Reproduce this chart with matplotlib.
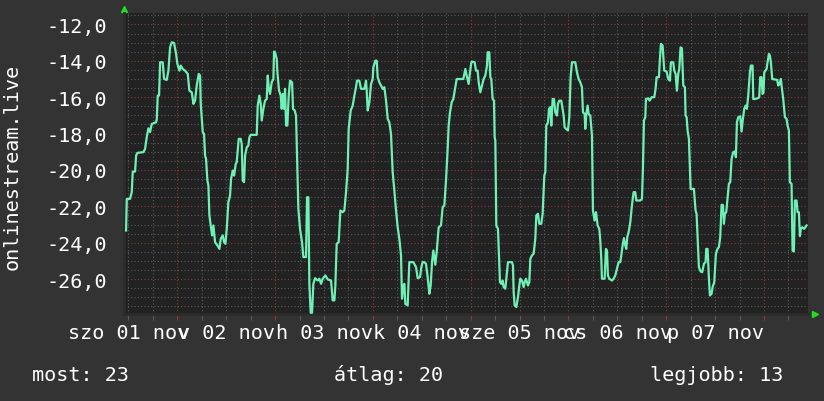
import matplotlib
matplotlib.use("Agg")
import matplotlib.pyplot as plt
from matplotlib.ticker import MultipleLocator, FuncFormatter

# hours since 01 nov 00:00 and the measured value
hours = [
    11.41, 11.58, 12.39, 12.80, 13.05, 13.62, 13.87, 14.19, 15.67, 16.07,
    16.48, 16.89, 17.30, 17.71, 18.77, 18.94, 19.18, 19.51, 19.76, 20.41,
    20.74, 21.39, 21.80, 22.21, 22.62, 23.19, 23.68, 24.01, 24.50, 24.83,
    25.32, 25.89, 26.55, 26.95, 27.53, 27.94, 28.34, 28.75, 29.24, 29.57,
    29.74, 30.23, 30.55, 30.80, 31.04, 31.37, 31.62, 31.86, 32.19, 32.52,
    32.85, 33.25, 33.83, 34.32, 34.65, 35.14, 35.46, 35.79, 36.12, 36.52,
    36.93, 37.18, 37.59, 37.92, 38.33, 38.57, 39.06, 39.55, 39.80, 40.04,
    40.37, 40.62, 41.03, 41.43, 41.68, 42.01, 43.48, 43.72, 44.13, 44.46,
    44.71, 45.11, 45.52, 45.93, 46.18, 46.42, 46.75, 47.16, 47.57, 47.73,
    47.98, 48.39, 48.55, 48.96, 49.37, 49.61, 49.86, 50.19, 50.43, 50.68,
    51.00, 51.33, 51.66, 52.15, 52.39, 52.80,
    53.13, 53.38, 53.70, 54.11, 54.60, 54.93, 55.58, 55.83, 56.16, 56.40,
    56.73, 57.06, 57.38, 57.79, 58.45, 58.86, 59.27, 59.67, 60.33, 60.90,
    61.72, 62.13, 62.54, 62.78, 63.11, 63.60, 64.01, 64.58, 64.99, 65.40,
    65.81, 66.05, 66.55, 67.04, 67.45, 67.85, 68.10, 68.67, 69.08, 69.90,
    70.31, 70.47, 70.72, 71.13, 71.54, 71.94, 72.11, 72.60, 72.93, 73.17,
    73.58, 73.99, 74.40, 74.81, 75.22, 75.63, 76.03, 76.44, 76.85, 77.26,
    77.67, 78.08, 78.49, 78.90, 79.14, 79.47, 79.72, 79.96, 80.53, 80.94,
    81.92, 82.58, 82.99, 83.56, 83.89, 84.21, 84.62, 85.03, 85.44, 85.85,
    86.18, 86.51, 86.83, 87.32, 87.65, 88.14, 88.71, 89.12, 89.53, 89.94,
    90.35, 90.60, 90.92, 91.33, 91.74, 92.15, 92.56, 94.19, 94.69, 95.01,
    95.50, 95.83, 96.16,
    96.32, 96.97, 97.30, 97.71, 97.96, 98.37, 98.77, 99.18, 99.59, 100.00,
    100.16, 100.57, 100.82, 101.06, 101.39, 101.72, 101.88, 102.05, 102.29, 102.70,
    102.86, 103.19, 103.52, 103.85, 104.09, 104.50, 104.75, 105.15, 106.14, 106.38,
    106.55, 106.79, 107.20, 107.61, 107.94, 108.18, 108.59, 109.00, 109.25, 109.57,
    110.06, 110.39, 110.64, 111.04, 111.45, 111.86, 112.11, 112.52, 112.84, 113.33,
    113.66, 114.07, 114.32, 114.56, 114.97, 115.22, 115.54, 115.79, 116.12, 116.44,
    116.77, 117.18, 117.42, 117.75, 118.24, 118.57, 118.82, 119.06, 119.39, 119.88,
    120.21, 120.53, 120.86, 121.68, 122.09, 122.50, 122.91, 123.31, 123.56, 123.97,
    124.13, 124.38, 124.71, 124.95, 125.36, 125.77, 126.01, 126.42, 126.75, 127.16,
    127.57, 127.81, 128.06, 128.22, 128.88, 129.20, 129.45, 129.69, 130.02, 130.68,
    131.09, 131.49, 131.90, 132.31, 132.72, 132.97, 133.29, 133.62, 133.95, 134.19,
    134.44, 134.77, 135.18, 135.58, 135.99, 136.40, 136.65, 137.63, 138.04, 138.28,
    138.53, 138.86, 139.02,
    139.59, 139.92, 140.41, 141.06, 141.39, 141.63, 142.21, 142.45, 142.70, 143.11,
    143.51, 144.09, 144.50, 144.91, 145.15, 145.72, 145.97, 146.30, 146.62, 146.95,
    147.20, 147.52, 147.85, 148.18, 148.59, 148.75, 149.00, 149.24, 149.57, 149.98,
    150.79, 151.20, 151.45, 151.69, 152.02, 152.43, 152.84, 153.25, 153.66, 153.82,
    154.15, 154.48, 154.72, 155.13, 155.38, 155.79, 156.19, 156.60, 156.93, 157.26,
    157.58, 157.91, 158.16, 158.40, 158.73, 159.06, 159.38, 159.71, 160.04, 160.45,
    160.86, 161.10, 161.35, 161.67, 162.16, 162.49, 162.82, 163.15, 163.47, 163.80,
    164.13, 164.54, 164.78, 165.19, 165.36, 165.76, 166.42, 166.83, 167.07, 167.40,
    167.65, 167.89, 168.06, 168.63, 168.87, 169.20, 169.45, 169.69, 170.02, 171.24,
    171.49, 171.82, 172.14, 172.31, 172.72, 173.13, 173.54, 173.78, 174.11, 174.35,
    174.76, 175.01, 175.33, 175.58, 175.99, 176.23, 176.56, 176.81, 177.05, 177.38,
    177.87, 178.44,
]
values = [
    -23.33, -21.59, -21.59, -21.22, -20.09, -20.09, -19.21, -19.06, -19.02, -18.84,
    -18.20, -17.71, -17.92, -17.47, -17.38, -17.23, -15.91, -15.91, -14.08, -14.08,
    -15.00, -15.05, -14.54, -13.26, -12.98, -13.02, -13.62, -14.17, -14.54, -14.26,
    -14.45, -14.54, -14.72, -15.64, -15.73, -16.37, -16.19, -15.36, -14.72, -14.81,
    -16.37, -17.92, -18.02, -19.21, -19.39, -20.58, -20.86, -22.50, -23.05, -23.60,
    -23.05, -23.97, -24.15, -24.34, -23.79, -23.60, -23.97, -24.06, -23.24, -21.77,
    -21.41, -20.49, -20.03, -20.31, -19.67, -19.57, -18.29, -18.29, -18.57, -20.58,
    -20.67, -19.21, -18.75, -18.66, -18.20, -18.07, -18.07, -16.46, -15.91, -16.37,
    -17.28, -16.64, -16.19, -16.10, -14.81, -15.45, -15.82, -15.18, -15.00, -13.49,
    -13.53, -13.90, -14.63, -15.64, -15.91, -16.64, -15.82, -16.64, -15.54, -17.56,
    -17.56, -15.91, -15.09, -15.18, -16.64, -16.73,
    -17.01, -19.21, -22.14, -23.24, -23.97, -24.79, -24.79, -21.50, -21.50, -26.26,
    -27.85, -27.85, -26.26, -25.95, -26.08, -25.98, -26.26, -25.98, -25.80, -26.02,
    -26.08, -27.17, -27.17, -26.35, -24.06, -23.97, -22.23, -22.32, -22.23, -21.22,
    -19.94, -17.74, -16.73, -16.46, -15.91, -15.45, -15.09, -15.09, -15.54, -15.54,
    -15.09, -15.64, -16.73, -16.28, -15.27, -15.00, -14.35, -13.99, -13.99, -14.90,
    -15.18, -15.36, -15.54, -15.45, -16.19, -17.19, -17.38, -18.02, -20.12, -21.13,
    -22.23, -23.15, -23.79, -24.70, -27.08, -26.35, -26.26, -27.36, -27.45, -25.07,
    -25.07, -25.34, -25.95, -25.89, -25.34, -25.07, -25.07, -25.16, -25.89, -26.81,
    -26.35, -25.07, -24.43, -25.21, -24.52, -23.15, -23.05, -22.05, -21.95, -20.58,
    -18.84, -17.56, -16.83, -16.28, -16.10, -15.54, -15.00, -15.00, -14.45, -14.81,
    -15.27, -14.63, -14.08,
    -14.04, -14.08, -14.54, -14.54, -15.18, -15.73, -15.36, -15.00, -14.81, -14.26,
    -13.53, -13.53, -14.90, -15.00, -16.10, -16.19, -18.20, -18.38, -23.05, -23.24,
    -24.15, -26.17, -26.26, -26.08, -26.44, -26.53, -25.98, -25.07, -25.07, -25.25,
    -26.72, -27.45, -27.54, -26.99, -26.35, -25.98, -26.08, -26.44, -26.17, -25.98,
    -26.35, -26.17, -24.89, -24.70, -24.61, -23.79, -22.50, -22.41, -22.96, -22.96,
    -22.41, -20.31, -20.12, -17.56, -17.38, -16.64, -16.55, -17.56, -16.10, -16.10,
    -16.83, -17.01, -16.37, -16.19, -16.19, -16.64, -17.01, -17.65, -17.74, -17.83,
    -17.10, -14.90, -14.08, -14.08, -14.63, -15.00, -15.18, -15.45, -16.83, -16.92,
    -17.74, -16.92, -16.46, -16.92, -17.01, -18.11, -22.23, -22.78, -22.32, -23.05,
    -23.24, -23.88, -24.89, -25.98, -25.98, -24.34, -24.43, -25.80, -25.98, -26.08,
    -25.98, -25.80, -25.43, -25.07, -25.07, -24.70, -24.15, -23.75, -24.15, -24.34,
    -23.69, -23.42, -22.87, -21.95, -21.22, -21.22, -21.68, -21.68, -21.59, -19.94,
    -17.28, -17.10, -16.10,
    -16.06, -16.19, -16.00, -16.00, -15.54, -14.90, -14.90, -13.89, -13.07, -13.16,
    -14.54, -14.59, -15.00, -15.09, -14.08, -14.08, -14.54, -14.72, -15.64, -14.72,
    -14.45, -13.26, -13.31, -15.36, -15.45, -17.01, -17.10, -17.83, -18.29, -21.04,
    -21.04, -22.23, -22.41, -23.69, -25.34, -25.58, -25.62, -25.16, -25.07, -24.34,
    -24.34, -25.98, -26.90, -26.81, -26.44, -26.17, -24.61, -24.34, -24.24, -23.69,
    -21.92, -21.92, -22.96, -22.41, -22.32, -21.50, -20.76, -20.67, -19.39, -19.02,
    -18.98, -19.30, -17.38, -17.10, -17.05, -17.89, -17.19, -16.64, -16.46, -16.64,
    -15.91, -14.63, -14.26, -14.26, -16.10, -16.10, -16.06, -16.00, -14.90, -14.90,
    -15.82, -15.73, -14.63, -14.45, -14.08, -13.62, -13.71, -14.08, -15.00, -15.05,
    -15.36, -15.27, -15.00, -15.36, -16.10, -17.10, -17.19, -17.56, -17.83, -20.67,
    -20.76, -24.43, -24.48, -21.68, -21.68, -22.32, -22.32, -23.64, -23.24, -23.15,
    -23.24, -23.05,
]

day_labels = ["szo 01 nov", "v 02 nov", "h 03 nov", "k 04 nov",
              "sze 05 nov", "cs 06 nov", "p 07 nov"]
day_label_hours = [12, 36, 60, 84, 108, 132, 156]

legend_texts = ["most: 23", "átlag: 20", "legjobb: 13"]
ylabel_text = "onlinestream.live"

bg_color = "#333333"
canvas_color = "#222222"
line_color = "#6ff0b6"
minor_grid = "#5a5a5a"
major_grid = "#8a3a3a"
arrow_color = "#22dd22"
font = "DejaVu Sans Mono"
fsize = 14.5

fig = plt.figure(figsize=(8.24, 4.02), dpi=100, facecolor=bg_color)
ax = fig.add_axes([124 / 824, 87 / 402, 684 / 824, 301 / 402])
ax.set_facecolor(canvas_color)

ax.plot(hours, values, color=line_color, linewidth=1.6, zorder=3)

ax.set_xlim(10.9, 178.8)
ax.set_ylim(-27.92, -11.37)

ax.xaxis.set_major_locator(MultipleLocator(24))
ax.xaxis.set_minor_locator(MultipleLocator(6))
ax.yaxis.set_major_locator(MultipleLocator(2))
ax.yaxis.set_minor_locator(MultipleLocator(0.5))

dots = (0, (1, 2))
ax.grid(which="minor", color=minor_grid, linestyle=dots, linewidth=0.8)
ax.grid(which="major", color=major_grid, linestyle=dots, linewidth=0.8)
ax.set_axisbelow(True)

ax.yaxis.set_major_formatter(FuncFormatter(lambda v, p: ("%.1f" % v).replace(".", ",")))
ax.set_xticklabels([])
ax.tick_params(axis="y", which="both", length=0, pad=12, labelcolor="white",
               labelsize=fsize)
for lab in ax.get_yticklabels():
    lab.set_fontfamily(font)
ax.tick_params(axis="x", which="major", length=4, color=major_grid, width=0.8)
ax.tick_params(axis="x", which="minor", length=4, color=minor_grid, width=0.8)

for side in ["top", "right"]:
    ax.spines[side].set_visible(False)
for side in ["left", "bottom"]:
    ax.spines[side].set_color("#2c2c2c")
    ax.spines[side].set_linewidth(2)

# axis arrows
ax.plot([0], [1.013], marker="^", color=arrow_color, markersize=5,
        transform=ax.transAxes, clip_on=False)
ax.plot([1.01], [0], marker=">", color=arrow_color, markersize=5,
        transform=ax.transAxes, clip_on=False)

# day labels centred at noon, later ones drawn over earlier ones
for h, lab in zip(day_label_hours, day_labels):
    ax.text(h, -0.08, lab, transform=ax.get_xaxis_transform(), ha="center",
            va="baseline", color="white", fontsize=fsize, family=font)

fig.text(12 / 824, 1 - 167 / 402, ylabel_text, rotation=90, ha="center",
         va="center", color="white", fontsize=fsize, family=font)

for xpos, txt in zip([32, 334, 650], legend_texts):
    fig.text(xpos / 824, 1 - 381 / 402, txt, ha="left", va="baseline",
             color="white", fontsize=fsize, family=font)

fig.savefig("out.png", dpi=100, facecolor=bg_color)
